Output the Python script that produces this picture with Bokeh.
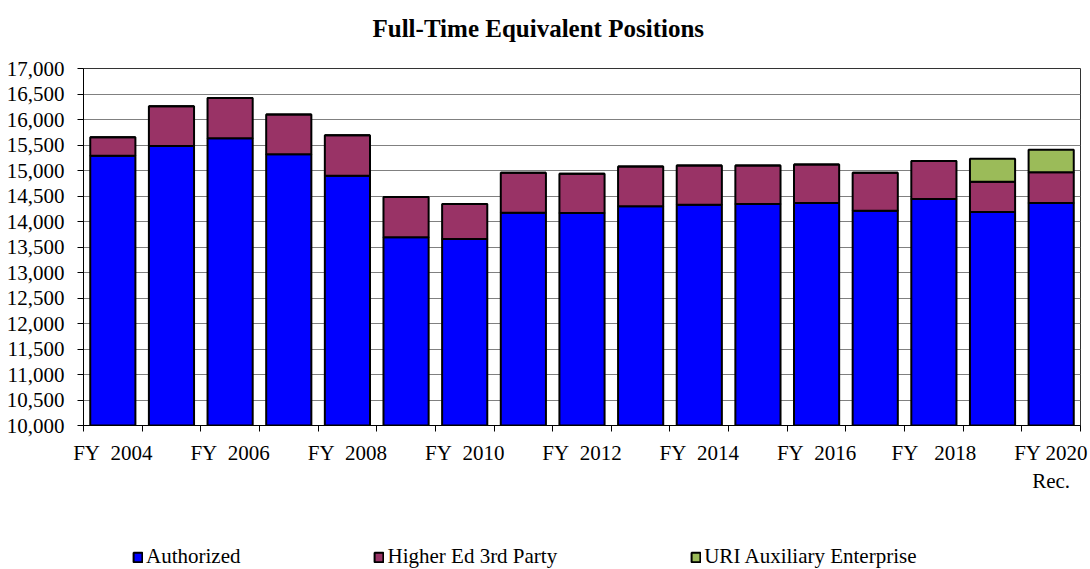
from bokeh.plotting import figure
from bokeh.layouts import column
from bokeh.models import (Range1d, FixedTicker, NumeralTickFormatter, Legend, LegendItem,
                          ColumnDataSource, Title)
from bokeh.embed import file_html
from bokeh.resources import INLINE

years = ["FY 2004", "FY 2005", "FY 2006", "FY 2007", "FY 2008", "FY 2009", "FY 2010", "FY 2011",
         "FY 2012", "FY 2013", "FY 2014", "FY 2015", "FY 2016", "FY 2017", "FY 2018", "FY 2019",
         "FY 2020 Rec."]
authorized = [15290, 15480, 15630, 15320, 14895, 13690, 13655, 14170, 14165, 14300, 14330,
              14345, 14365, 14210, 14440, 14185, 14365]
higher_ed = [360, 780, 790, 780, 795, 790, 690, 785, 770, 780, 770, 755, 755, 745, 745, 595, 600]
uri_aux = [0, 0, 0, 0, 0, 0, 0, 0, 0, 0, 0, 0, 0, 0, 0, 450, 440]
tick_labels = {0: "FY\u00a0\u00a02004", 2: "FY\u00a0\u00a02006", 4: "FY\u00a0\u00a02008",
               6: "FY\u00a0\u00a02010", 8: "FY\u00a0\u00a02012", 10: "FY\u00a0\u00a02014",
               12: "FY\u00a0\u00a02016", 14: "FY\u00a0\u00a0\u00a02018", 16: "FY 2020\nRec."}
series = ["Authorized", "Higher Ed 3rd Party", "URI Auxiliary Enterprise"]
colors = ["#0000FF", "#993366", "#9BBB59"]
title_text = "Full-Time Equivalent Positions"

FONT = "Liberation Serif"
n = len(years)
xs = [i + 0.5 for i in range(n)]
src = ColumnDataSource(dict(x=xs, authorized=authorized, higher_ed=higher_ed, uri_aux=uri_aux))
stack = ["authorized", "higher_ed", "uri_aux"]

p = figure(width=1090, height=530, output_backend="svg", toolbar_location=None,
           x_range=Range1d(0, n), y_range=Range1d(10000, 17000),
           min_border_left=83, min_border_right=10, min_border_top=68, min_border_bottom=105)
p.title.text = ""
p.title.visible = False

rs = p.vbar_stack(stack, x="x", width=0.77, source=src,
                  color=colors, line_color="black", line_width=2)
for r, c in zip(rs, colors):
    r.glyph.fill_color = c
    r.glyph.line_color = "black"

# spacer (closest to the frame), then the real title above it
p.add_layout(Title(text="\u00a0", text_font=FONT, text_font_size="18px", standoff=0,
                   align="center"), "above")
p.add_layout(Title(text=title_text, text_font=FONT, text_font_style="bold",
                   text_font_size="25px", text_color="black", align="left", offset=289,
                   standoff=10), "above")

p.xgrid.visible = False
p.ygrid.grid_line_color = "#808080"
p.ygrid.grid_line_width = 1
p.outline_line_color = "#333333"
p.outline_line_width = 1

ya = p.yaxis[0]
ya.ticker = FixedTicker(ticks=list(range(10000, 17001, 500)))
ya.formatter = NumeralTickFormatter(format="0,0")
ya.major_label_text_font = FONT
ya.major_label_text_font_size = "21px"
ya.major_label_text_color = "black"
ya.major_tick_in = 0
ya.major_tick_out = 6
ya.minor_tick_line_color = None
ya.axis_line_color = "black"
ya.major_tick_line_color = "black"
ya.major_label_standoff = 13

xa = p.xaxis[0]
major = [i + 0.5 for i in sorted(tick_labels)]
xa.ticker = FixedTicker(ticks=major, minor_ticks=list(range(0, n + 1)))
xa.major_label_overrides = {i + 0.5: t for i, t in tick_labels.items()}
xa.major_label_text_font = FONT
xa.major_label_text_font_size = "21px"
xa.major_label_text_color = "black"
xa.major_tick_in = 0
xa.major_tick_out = 0
xa.minor_tick_in = 0
xa.minor_tick_out = 6
xa.minor_tick_line_color = "black"
xa.axis_line_color = "black"
xa.major_label_standoff = 9

# legend strip below the chart: proxy renderers (NaN, never drawn) carry the legend styling
lg = figure(width=1090, height=39, output_backend="svg", toolbar_location=None,
            x_range=Range1d(0, 1), y_range=Range1d(0, 1),
            x_axis_type=None, y_axis_type=None,
            min_border_left=0, min_border_right=0, min_border_top=0, min_border_bottom=0)
lg.outline_line_color = None
lg.title.visible = False
proxy = ColumnDataSource({k: [float("nan")] for k in ["x"] + stack})
lrs = lg.vbar_stack(stack, x="x", width=0.77, source=proxy,
                    color=colors, line_color="black", line_width=2)
legend = Legend(items=[LegendItem(label=s, renderers=[r]) for s, r in zip(series, lrs)],
                orientation="horizontal", location=(49, 0), spacing=133,
                glyph_width=11, glyph_height=12, label_height=20, label_standoff=3,
                padding=0, margin=0,
                border_line_color=None, background_fill_alpha=0,
                label_text_font=FONT, label_text_font_size="21px", label_text_color="black")
lg.add_layout(legend)

layout = column(p, lg, spacing=0)
open("out.html", "w").write(file_html(layout, INLINE))
